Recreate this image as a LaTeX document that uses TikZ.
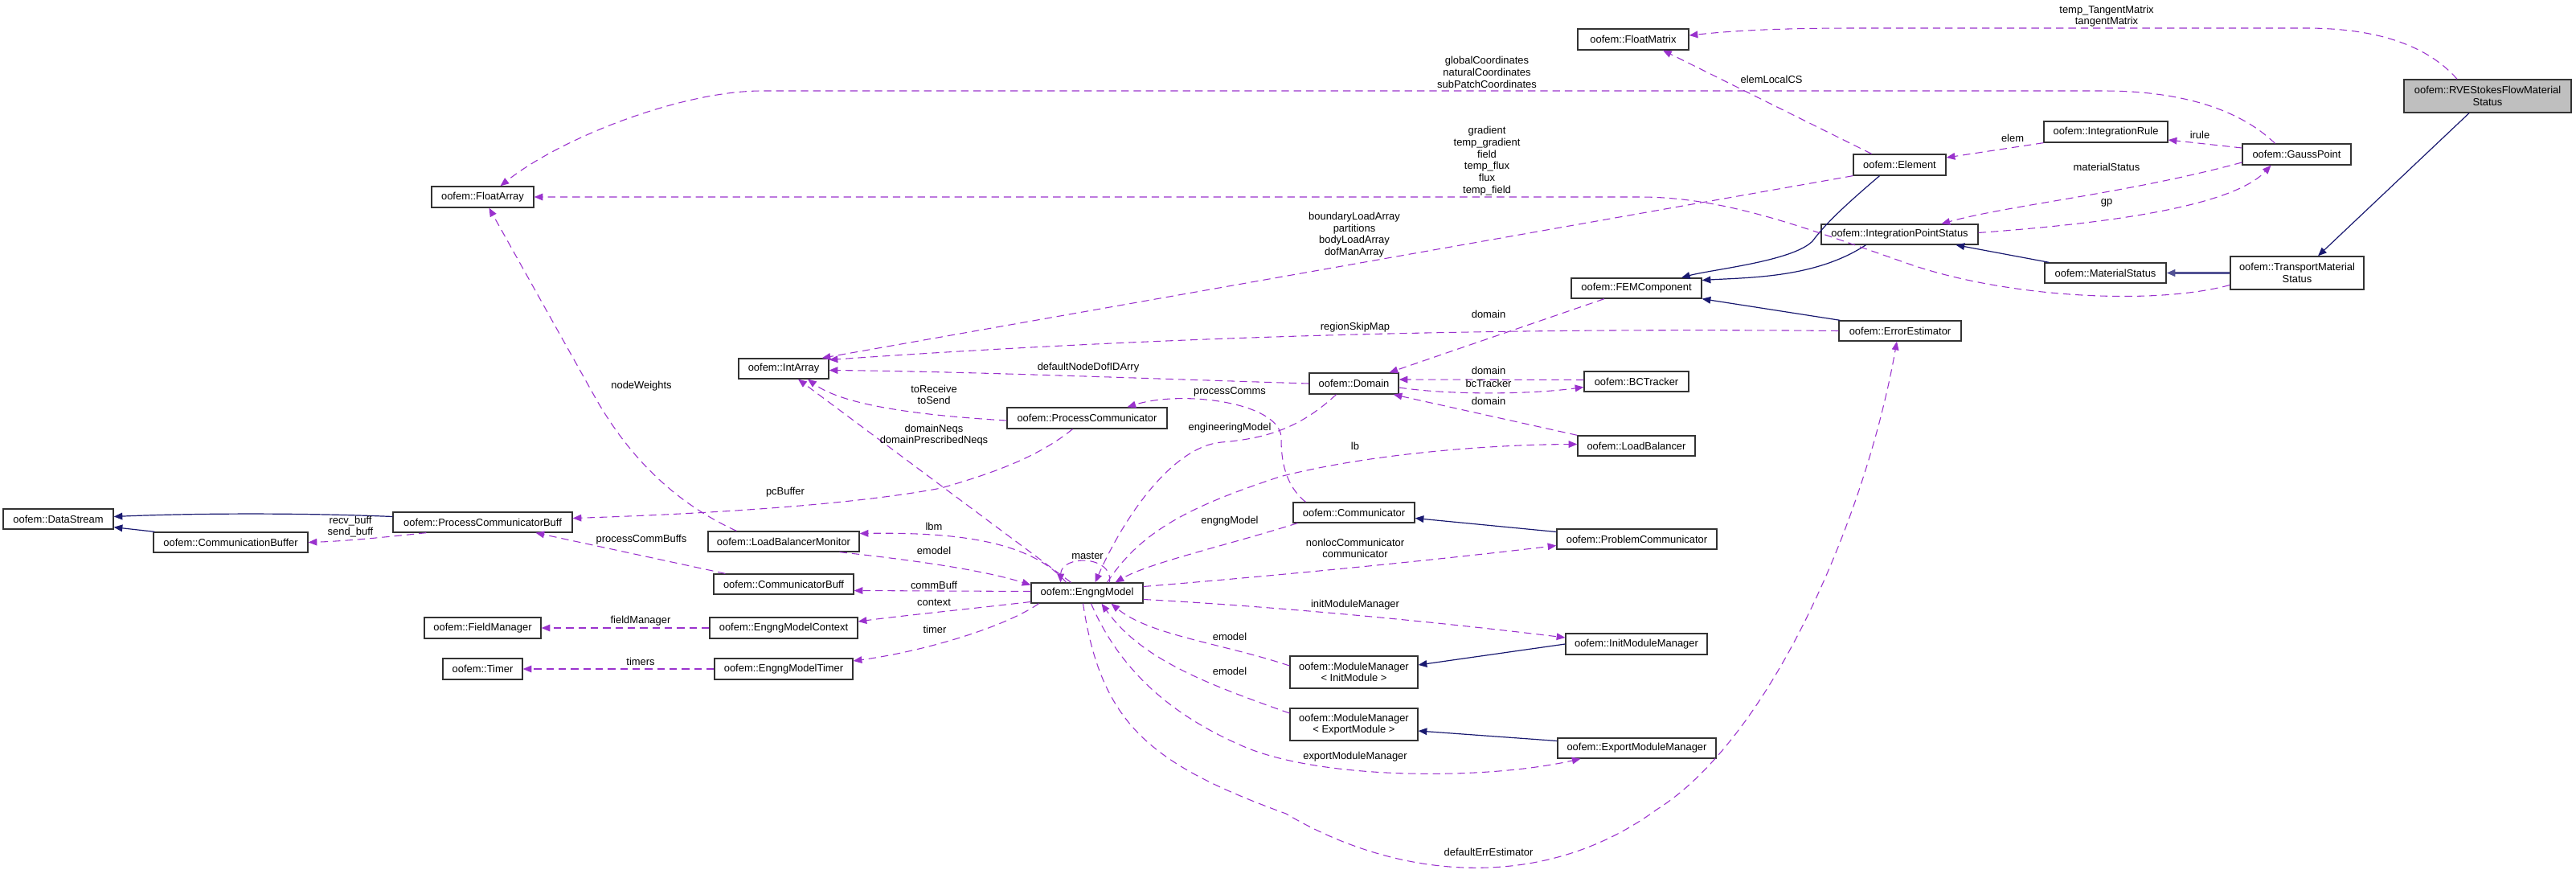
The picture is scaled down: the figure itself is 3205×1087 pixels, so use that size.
\documentclass[tikz,border=0pt]{standalone}
\usepackage{fontspec}
\setmainfont{Liberation Sans}
\usetikzlibrary{arrows.meta,calc}
\definecolor{usec}{HTML}{9A32CD}
\definecolor{inhc}{HTML}{191970}
\definecolor{gfill}{HTML}{BFBFBF}
\tikzset{
 clsbox/.style={draw=black!80, line width=1pt, fill=white, inner sep=0pt, align=center, font=\fontsize{9.7pt}{11pt}\selectfont},
 lbl/.style={inner sep=0pt, align=center, font=\fontsize{9.7pt}{11pt}\selectfont},
 use/.style={draw=usec, line width=0.8pt, dash pattern=on 7pt off 4.5pt, -{Triangle[length=8pt,width=6.5pt]}},
 inh/.style={draw=inhc, line width=0.9pt, -{Triangle[length=8pt,width=6.5pt]}},
}
\newcommand\mkcls[7][]{\node[clsbox,#1,minimum width={#5*0.75pt},minimum height={#6*0.75pt}] (#2) at (#3,#4) {#7};}
\begin{document}
\begin{tikzpicture}[x=0.75pt,y=-0.75pt]
\useasboundingbox (0,0) rectangle (3205,1087);
% classes
\mkcls[fill=gfill]{rve}{3095}{119.5}{208}{41}{oofem::RVEStokesFlowMaterial\\Status}
\mkcls{fmat}{2032}{49}{138}{26}{oofem::FloatMatrix}
\mkcls{gp}{2857.5}{192}{135}{26}{oofem::GaussPoint}
\mkcls{irule}{2620}{164}{154}{26}{oofem::IntegrationRule}
\mkcls{elem}{2363.5}{205}{115}{26}{oofem::Element}
\mkcls{ips}{2363.5}{291.5}{195}{25}{oofem::IntegrationPointStatus}
\mkcls{ms}{2619.5}{339.5}{151}{25}{oofem::MaterialStatus}
\mkcls{tms}{2858}{339.5}{166}{41}{oofem::TransportMaterial\\Status}
\mkcls{fem}{2036}{358.5}{162}{25}{oofem::FEMComponent}
\mkcls{ee}{2364}{411.5}{152}{25}{oofem::ErrorEstimator}
\mkcls{dom}{1684.5}{477}{111}{26}{oofem::Domain}
\mkcls{bct}{2036}{474.5}{130}{25}{oofem::BCTracker}
\mkcls{lb}{2036}{554.5}{146}{25}{oofem::LoadBalancer}
\mkcls{comm}{1684.5}{637.5}{151}{25}{oofem::Communicator}
\mkcls{pbc}{2036.5}{670.5}{199}{25}{oofem::ProblemCommunicator}
\mkcls{imm}{2036}{801}{176}{26}{oofem::InitModuleManager}
\mkcls{mmi}{1684.5}{836}{159}{40}{oofem::ModuleManager\\< InitModule >}
\mkcls{mme}{1684.5}{901}{159}{40}{oofem::ModuleManager\\< ExportModule >}
\mkcls{emm}{2036.5}{930.5}{197}{25}{oofem::ExportModuleManager}
\mkcls{em}{1352.5}{737.5}{139}{25}{oofem::EngngModel}
\mkcls{ia}{975}{458.5}{112}{25}{oofem::IntArray}
\mkcls{pc}{1352.5}{520}{199}{26}{oofem::ProcessCommunicator}
\mkcls{lbm}{975}{673.5}{188}{25}{oofem::LoadBalancerMonitor}
\mkcls{cb}{975}{726.5}{174}{25}{oofem::CommunicatorBuff}
\mkcls{emc}{975}{781}{184}{26}{oofem::EngngModelContext}
\mkcls{emt}{975}{832}{172}{26}{oofem::EngngModelTimer}
\mkcls{fm}{600.5}{781}{145}{26}{oofem::FieldManager}
\mkcls{tim}{600.5}{832}{99}{26}{oofem::Timer}
\mkcls{ds}{72.5}{645.5}{137}{25}{oofem::DataStream}
\mkcls{cbuf}{287}{674.5}{192}{25}{oofem::CommunicationBuffer}
\mkcls{pcb}{600.5}{649.5}{223}{25}{oofem::ProcessCommunicatorBuff}
\mkcls{fa}{600.5}{245}{127}{26}{oofem::FloatArray}
% inheritance
\draw[inh] ($(rve.south)+(-23,0)$) -- ($(tms.north)+(26,0)$);
\draw[inh, line width=1.6pt, draw=inhc!75] (tms.west) -- (ms.east);
\draw[inh] ($(ms.north west)+(6,0)$) -- ($(ips.south)+(70,0)$);
\draw[inh] ($(ips.south)+(-42,0)$) .. controls (2260,345) and (2180,345) .. ($(fem.east)+(0,-10)$);
\draw[inh] ($(elem.south)+(-25,0)$) .. controls (2290,260) and (2270,280) .. (2255,300) .. controls (2230,325) and (2130,335) .. ($(fem.north)+(56,0)$);
\draw[inh] ($(ee.north west)+(2,0)$) -- (fem.south east);
\draw[inh] (imm.west) -- ($(mmi.east)+(0,-9)$);
\draw[inh] ($(emm.west)+(0,-9)$) -- ($(mme.east)+(0,8)$);
\draw[inh] ($(pbc.west)+(0,-9)$) -- ($(comm.east)+(0,7)$);
\draw[inh] ($(pcb.west)+(0,-7)$) .. controls (380,638) and (250,638) .. ($(ds.east)+(0,-3)$);
\draw[inh] ($(cbuf.north west)+(2,0)$) -- ($(ds.south east)+(0,-3)$);
% usage
\draw[use] ($(rve.north)+(-38,0)$) .. controls (3010,45) and (2930,35) .. (2868,35) -- (2310,35) .. controls (2200,35) and (2150,39) .. ($(fmat.east)+(0,-5)$);
\node[lbl] (l1) at (2621,20) {temp\_TangentMatrix\\tangentMatrix};
\draw[use] ($(tms.west)+(0,15)$) .. controls (2680,380) and (2500,370) .. (2380,330) .. controls (2250,285) and (2150,245) .. (2040,245) -- (fa.east);
\node[lbl] (l2) at (1850,200) {gradient\\temp\_gradient\\field\\temp\_flux\\flux\\temp\_field};
\draw[use] ($(gp.north)+(-27,0)$) .. controls (2780,130) and (2700,113) .. (2616,113) -- (948,113) .. controls (850,113) and (700,170) .. ($(fa.north)+(22,0)$);
\node[lbl] (l3) at (1850,90) {globalCoordinates\\naturalCoordinates\\subPatchCoordinates};
\draw[use] ($(gp.west)+(0,-8)$) -- ($(irule.east)+(0,10)$);
\node[lbl] (l4) at (2737,168) {irule};
\draw[use] (irule.south west) -- ($(elem.east)+(0,-9)$);
\node[lbl] (l5) at (2504,172) {elem};
\draw[use] ($(elem.north)+(-35,0)$) -- ($(fmat.south)+(37,0)$);
\node[lbl] (l6) at (2204,99) {elemLocalCS};
\draw[use] ($(gp.west)+(0,10)$) .. controls (2650,240) and (2500,255) .. ($(ips.north)+(52,0)$);
\node[lbl] (l7) at (2621,208) {materialStatus};
\draw[use] ($(ips.east)+(0,-2)$) .. controls (2560,282) and (2770,265) .. ($(gp.south)+(-32,0)$);
\node[lbl] (l8) at (2621,252) {gp};
\draw[use] (elem.south west) -- ($(ia.north east)+(-9,0)$);
\node[lbl] (l9) at (1685,292) {boundaryLoadArray\\partitions\\bodyLoadArray\\dofManArray};
\draw[use] (ee.west) .. controls (1900,408) and (1500,415) .. ($(ia.east)+(0,-11)$);
\node[lbl] (l10) at (1686,407) {regionSkipMap};
\draw[use] ($(fem.south)+(-40,0)$) -- ($(dom.north)+(44,0)$);
\node[lbl] (l11) at (1852,391) {domain};
\draw[use] (dom.west) .. controls (1400,470) and (1200,462) .. ($(ia.east)+(0,2)$);
\node[lbl] (l12) at (1354,457) {defaultNodeDofIDArry};
\draw[use] ($(bct.west)+(0,-2)$) -- ($(dom.east)+(0,-5)$);
\node[lbl] (l13) at (1852,461) {domain};
\draw[use] ($(dom.east)+(0,5)$) .. controls (1800,491) and (1900,491) .. ($(bct.west)+(0,7)$);
\node[lbl] (l14) at (1852,477) {bcTracker};
\draw[use] (lb.north west) -- ($(dom.south east)+(-7,0)$);
\node[lbl] (l15) at (1852,499) {domain};
\draw[use] ($(pc.west)+(0,3)$) .. controls (1150,517) and (1050,505) .. ($(ia.south)+(30,0)$);
\node[lbl] (l16) at (1162,491) {toReceive\\toSend};
\draw[use] ($(em.north)+(-20,0)$) -- ($(ia.south)+(18,0)$);
\node[lbl] (l17) at (1162,541) {domainNeqs\\domainPrescribedNeqs};
\draw[use] ($(comm.north)+(-60,0)$) .. controls (1594,600) and (1594,560) .. (1594,543) .. controls (1590,500) and (1470,485) .. ($(pc.north)+(50,0)$);
\node[lbl] (l18) at (1530,487) {processComms};
\draw[use] ($(dom.south)+(-22,0)$) .. controls (1620,530) and (1580,545) .. (1520,550) .. controls (1460,555) and (1400,640) .. ($(em.north)+(10,0)$);
\node[lbl] (l19) at (1530,532) {engineeringModel};
\draw[use] ($(pc.south)+(-18,0)$) .. controls (1290,570) and (1230,590) .. (1171,607) .. controls (1050,630) and (850,640) .. ($(pcb.east)+(0,-5)$);
\node[lbl] (l20) at (977,612) {pcBuffer};
\draw[use] ($(em.north)+(25,0)$) .. controls (1420,660) and (1480,630) .. (1592,593) .. controls (1700,565) and (1850,553) .. ($(lb.west)+(0,-2)$);
\node[lbl] (l21) at (1686,555) {lb};
\draw[use] ($(comm.south west)+(6,0)$) .. controls (1520,680) and (1430,700) .. ($(em.north)+(35,0)$);
\node[lbl] (l22) at (1530,648) {engngModel};
\draw[use] ($(em.east)+(0,-8)$) .. controls (1600,715) and (1800,695) .. ($(pbc.west)+(0,8)$);
\node[lbl] (l23) at (1686,682) {nonlocCommunicator\\communicator};
\draw[use] ($(em.east)+(0,8)$) .. controls (1600,755) and (1800,775) .. ($(imm.west)+(0,-8)$);
\node[lbl] (l24) at (1686,752) {initModuleManager};
\draw[use] ($(mmi.west)+(0,-8)$) .. controls (1520,800) and (1430,790) .. ($(em.south)+(30,0)$);
\node[lbl] (l25) at (1530,792) {emodel};
\draw[use] ($(mme.west)+(0,-14)$) .. controls (1500,850) and (1420,820) .. ($(em.south)+(18,0)$);
\node[lbl] (l26) at (1530,835) {emodel};
\draw[use] ($(em.south)+(5,0)$) .. controls (1400,850) and (1480,900) .. (1551,930) .. controls (1650,970) and (1850,970) .. ($(emm.south)+(-70,0)$);
\node[lbl] (l27) at (1686,941) {exportModuleManager};
\draw[use] ($(em.south)+(-5,0)$) .. controls (1370,900) and (1430,950) .. (1600,1012) .. controls (1740,1095) and (1920,1110) .. (2061,1007) .. controls (2200,920) and (2320,650) .. ($(ee.south)+(-4,0)$);
\node[lbl] (l28) at (1852,1060) {defaultErrEstimator};
\draw[use] ($(em.north)+(28,0)$) .. controls (1385,690) and (1320,690) .. ($(em.north)+(-33,0)$);
\node[lbl] (l29) at (1353,691) {master};
\draw[use] ($(lbm.south east)+(-25,0)$) .. controls (1130,696) and (1220,708) .. ($(em.west)+(0,-10)$);
\node[lbl] (l30) at (1162,685) {emodel};
\draw[use] ($(em.north)+(-26,0)$) .. controls (1280,670) and (1180,662) .. ($(lbm.east)+(0,-10)$);
\node[lbl] (l31) at (1162,655) {lbm};
\draw[use] ($(em.west)+(0,-2)$) -- ($(cb.east)+(0,8)$);
\node[lbl] (l32) at (1162,728) {commBuff};
\draw[use] ($(em.west)+(0,11)$) .. controls (1200,758) and (1120,766) .. ($(emc.east)+(0,-8)$);
\node[lbl] (l33) at (1162,749) {context};
\draw[use] ($(em.south)+(-60,0)$) .. controls (1250,780) and (1150,810) .. ($(emt.east)+(0,-10)$);
\node[lbl] (l34) at (1163,783) {timer};
\draw[use] (emc.west) -- (fm.east);
\node[lbl] (l35) at (797,772) {fieldManager};
\draw[use] (emt.west) -- (tim.east);
\node[lbl] (l36) at (797,823) {timers};
\draw[use] ($(lbm.north west)+(36,0)$) .. controls (850,630) and (790,580) .. (742,497) -- ($(fa.south)+(8,0)$);
\node[lbl] (l37) at (798,480) {nodeWeights};
\draw[use] ($(cb.north west)+(15,0)$) -- ($(pcb.south)+(66,0)$);
\node[lbl] (l38) at (798,671) {processCommBuffs};
\draw[use] ($(pcb.south west)+(42,0)$) .. controls (480,668) and (430,673) .. (cbuf.east);
\node[lbl] (l39) at (436,655) {recv\_buff\\send\_buff};
\end{tikzpicture}
\end{document}
